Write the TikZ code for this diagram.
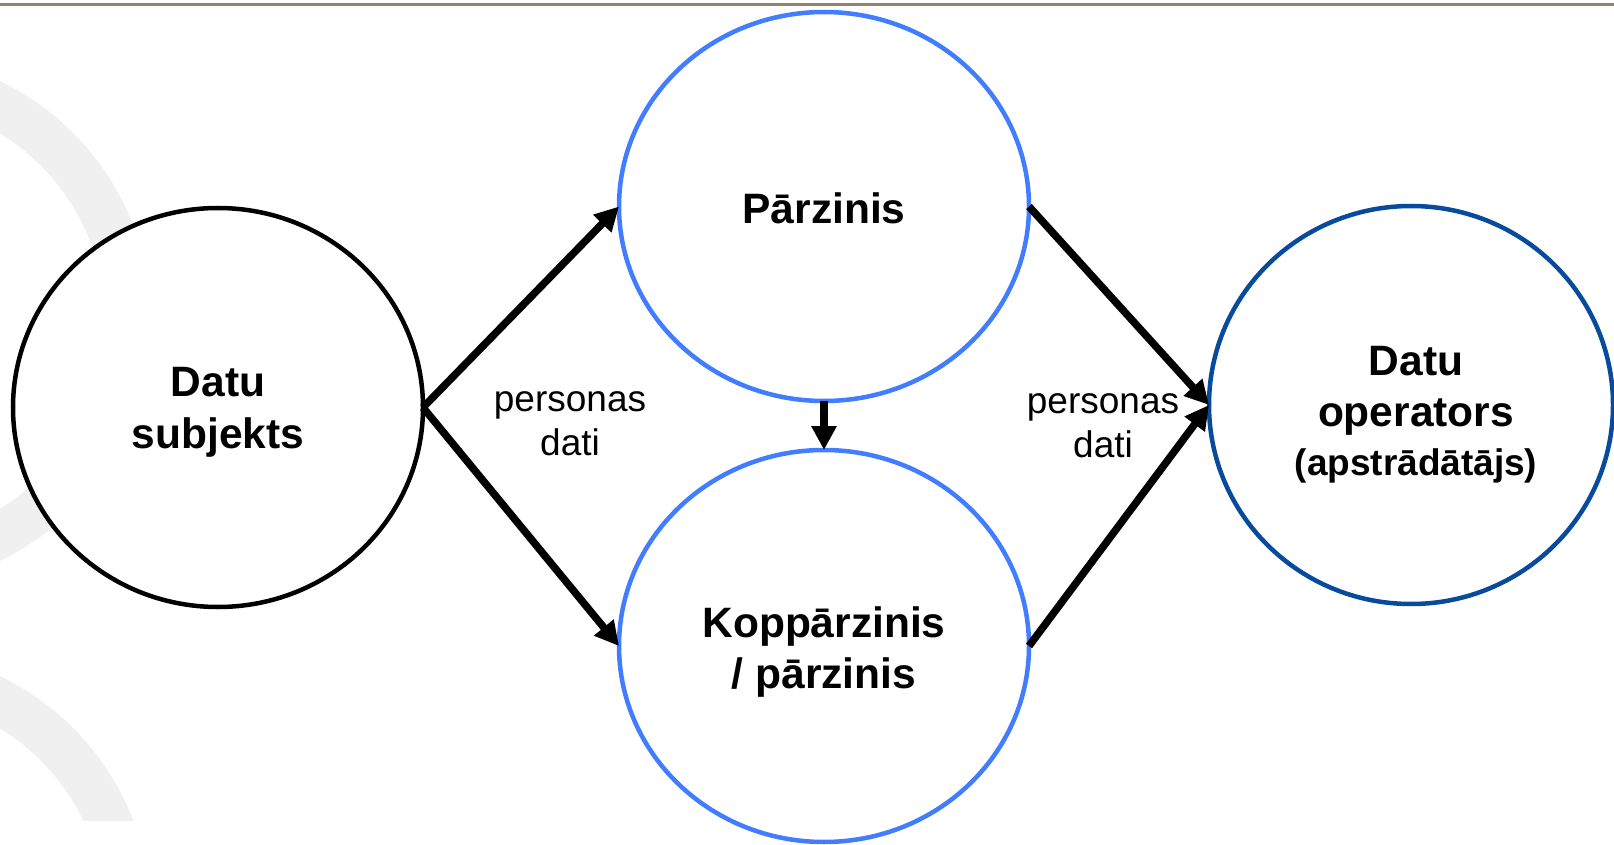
\documentclass[tikz,border=0pt]{standalone}
\usepackage{fontspec}
\setmainfont{Liberation Sans}
\usetikzlibrary{shapes.geometric,arrows.meta}
\definecolor{topline}{RGB}{150,130,102}
\definecolor{ringgray}{RGB}{240,240,240}
\definecolor{midblue}{RGB}{66,124,255}
\definecolor{darkblue}{RGB}{8,74,156}
\tikzset{
  bubble/.style={ellipse,draw,line width=4.5pt,fill=white,inner sep=0pt,outer sep=0pt},
  bubbletext/.style={align=center,inner sep=0pt,font=\bfseries\fontsize{42.5}{51.5}\selectfont},
  flowarrow/.style={line width=7.5pt,-{Triangle[length=24pt,width=24pt]}},
  flowlabel/.style={align=center,font=\fontsize{37}{44}\selectfont},
  ring/.style={draw=ringgray,line width=46pt}
}
\begin{document}
\begin{tikzpicture}[x=1pt,y=-1pt]
\useasboundingbox (0,0) rectangle (1614,845);
% background rings
\begin{scope}
\clip (0,0) rectangle (1614,820);
\draw[ring] (-115,321) circle[radius=243];
\draw[ring] (-115,916) circle[radius=243];
\end{scope}
% top rule
\draw[line width=3pt,color=topline] (0,5) -- (1614,5);
% bubbles
\node[bubble,draw=black,minimum width=410pt,minimum height=399pt] (ds) at (218,407.5) {};
\node[bubble,draw=midblue,minimum width=410pt,minimum height=389pt] (pz) at (824,206.5) {};
\node[bubble,draw=midblue,minimum width=410pt,minimum height=392pt] (kp) at (824,646) {};
\node[bubble,draw=darkblue,minimum width=404pt,minimum height=398pt] (op) at (1411,405) {};
% bubble texts
\node[bubbletext] (dst) at ([yshift=-5pt]ds.center) {Datu\\subjekts};
\node[bubbletext] (pzt) at ([yshift=-2pt]pz.center) {Pārzinis};
\node[bubbletext] (kpt) at ([yshift=-6pt]kp.center) {Koppārzinis\\/ pārzinis};
\node[bubbletext] (opt) at ([xshift=5pt,yshift=-9.5pt]op.center)
  {Datu\\operators\\[-3pt]{\fontsize{37}{42}\selectfont (apstrādātājs)}};
% labels
\node[flowlabel] (l1) at (570,424) {personas\\dati};
\node[flowlabel] (l2) at (1103,426) {personas\\dati};
% arrows
\draw[flowarrow] (ds.east) -- (pz.west);
\draw[flowarrow] (ds.east) -- (kp.west);
\draw[flowarrow] (pz.east) -- (op.west);
\draw[flowarrow] (kp.east) -- (op.west);
\draw[flowarrow] (pz.south) -- (kp.north);
\end{tikzpicture}
\end{document}
